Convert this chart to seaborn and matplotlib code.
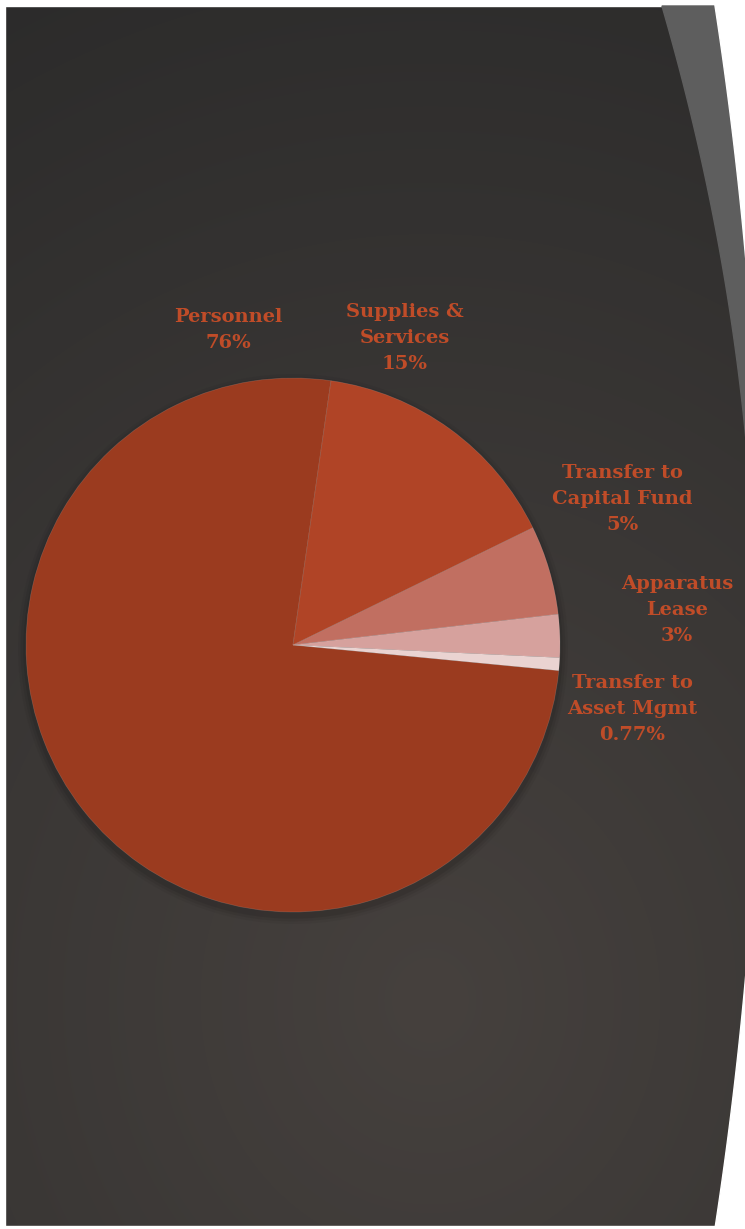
import numpy as np
import matplotlib
matplotlib.use("Agg")
import matplotlib.pyplot as plt
from matplotlib.patches import Polygon
import seaborn as sns

# ---- data ----
categories = ["Personnel", "Supplies &\nServices", "Transfer to\nCapital Fund",
              "Apparatus\nLease", "Transfer to\nAsset Mgmt"]
values = [75.8, 15.5, 5.4, 2.6, 0.77]
pct_labels = ["76%", "15%", "5%", "3%", "0.77%"]
colors = ["#9B3B1F", "#B04426", "#C16F61", "#D6A19D", "#EAD3D1"]

# ---- layout (pixels) ----
W, H = 745, 1229
label_pos = [(228, 330), (405, 338), (622, 499), (677, 610), (632, 709)]
label_color = "#C04C28"

sns.set_theme(style="dark")
plt.rcParams["font.family"] = ["DejaVu Serif", "DejaVu Sans"]

fig = plt.figure(figsize=(W / 100, H / 100), dpi=100)
fig.patch.set_facecolor("white")

# background axes in pixel coordinates
bg = fig.add_axes([0, 0, 1, 1])
bg.set_xlim(0, W)
bg.set_ylim(H, 0)
bg.axis("off")

yy, xx = np.mgrid[0:H:2, 0:W:2]
d = np.sqrt((xx - 430) ** 2 + ((yy - 1000) * 0.9) ** 2)
t = np.clip(d / 1150, 0, 1)
c0 = np.array([70, 65, 62]) / 255
c1 = np.array([40, 40, 40]) / 255
img = c0[None, None, :] * (1 - t[..., None]) + c1[None, None, :] * t[..., None]
bg.imshow(img, extent=(0, W, H, 0), aspect="auto", zorder=0, interpolation="bilinear")

# white margins
bg.add_patch(Polygon([(0, 0), (W, 0), (W, 6), (0, 6)], closed=True, color="white", zorder=1))
bg.add_patch(Polygon([(0, 0), (5, 0), (5, H), (0, H)], closed=True, color="white", zorder=1))
bg.add_patch(Polygon([(0, 1226), (W, 1226), (W, H), (0, H)], closed=True, color="white", zorder=1))

# gray stripe on the right (upper)
ys = np.linspace(6, 440, 200)
xl = 660.2 + 0.2937 * ys - 0.0002246 * ys ** 2
cx, cy, R = -3261.0, 617.0, 4022.7
stripe = list(zip(xl, ys)) + list(zip(np.full_like(ys, W + 5)[::-1], ys[::-1]))
bg.add_patch(Polygon(stripe, closed=True, color="#5E5E5E", zorder=1))

# white region right of big arc
ya = np.linspace(0, H, 400)
xa = cx + np.sqrt(R ** 2 - (ya - cy) ** 2)
right = list(zip(xa, ya)) + [(W + 10, H), (W + 10, 0)]
bg.add_patch(Polygon(right, closed=True, color="white", zorder=2))

# pie axes
pcx, pcy, pr = 293, 645, 267
ax = fig.add_axes([(pcx - pr) / W, (H - pcy - pr) / H, 2 * pr / W, 2 * pr / H])
ax.patch.set_alpha(0)

# soft shadow
for k, a in [(1.03, 0.04), (1.02, 0.06), (1.01, 0.08)]:
    ax.pie([1], radius=k, colors=["black"], center=(0.0, -0.015),
           wedgeprops=dict(alpha=a, linewidth=0))

ax.pie(values, colors=colors, startangle=-5.5, counterclock=False,
       wedgeprops=dict(linewidth=0.5, edgecolor=(1, 1, 1, 0.15)))
ax.set_xlim(-1, 1)
ax.set_ylim(-1, 1)
ax.axis("off")

for cat, pct, (x, y) in zip(categories, pct_labels, label_pos):
    bg.text(x, y, f"{cat}\n{pct}", ha="center", va="center", multialignment="center",
            color=label_color, fontsize=14, fontweight="bold", linespacing=1.6, zorder=5)

fig.savefig("out.png", dpi=100, facecolor=fig.get_facecolor())
